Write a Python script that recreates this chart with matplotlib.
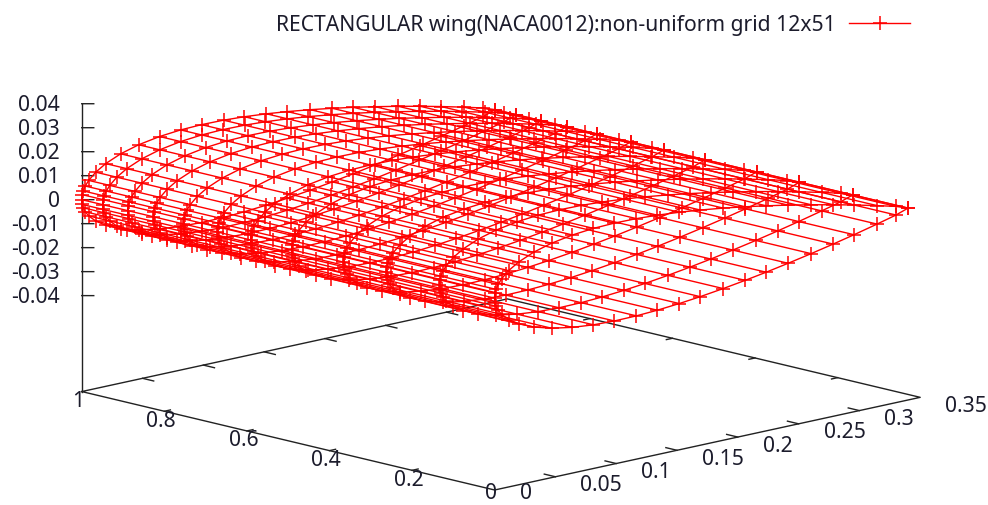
#!/usr/bin/python3
import matplotlib
matplotlib.use('Agg')
import matplotlib.pyplot as plt
import numpy as np
from mpl_toolkits.mplot3d import proj3d

plt.rcParams['font.family'] = ['Noto Sans', 'DejaVu Sans']

title = "RECTANGULAR wing(NACA0012):non-uniform grid 12x51"

# spanwise stations
span_y = [0.0, 0.134, 0.263, 0.367, 0.491, 0.591, 0.672, 0.754, 0.827, 0.888, 0.949, 1.0]

# chord stations, leading edge to trailing edge
chord_x = [0.0, 0.0004, 0.0012, 0.0029, 0.0057, 0.0115, 0.0197, 0.0320, 0.0468, 0.0640,
           0.0813, 0.0985, 0.1166, 0.1338, 0.1519, 0.1691, 0.1880, 0.2061, 0.2233, 0.2414,
           0.2603, 0.2784, 0.2956, 0.3145, 0.3301, 0.3400]

# half thickness at each chord station
half_z = [0.0, 0.00204, 0.00351, 0.00536, 0.0074, 0.01019, 0.01286, 0.01558, 0.01772, 0.01926,
          0.0201, 0.0204, 0.02027, 0.01981, 0.01903, 0.01806, 0.01677, 0.01534, 0.01385, 0.01212,
          0.01019, 0.0082, 0.0062, 0.00385, 0.00179, 0.0]

xticks = [0, 0.05, 0.1, 0.15, 0.2, 0.25, 0.3, 0.35]
xticklabels = ['0', '0.05', '0.1', '0.15', '0.2', '0.25', '0.3', '0.35']
yticks = [0, 0.2, 0.4, 0.6, 0.8, 1]
yticklabels = ['0', '0.2', '0.4', '0.6', '0.8', '1']
zticks = [-0.04, -0.03, -0.02, -0.01, 0, 0.01, 0.02, 0.03, 0.04]
zticklabels = ['-0.04', '-0.03', '-0.02', '-0.01', '0', '0.01', '0.02', '0.03', '0.04']

xmax, ymax, zmin, zmax = 0.35, 1.0, -0.08, 0.04

W, H = 988, 505
side = 863.4
cx, cy = 489.3, 242.8

fig = plt.figure(figsize=(W / 100, H / 100), dpi=100)
ax = fig.add_axes([(cx - side / 2) / W, (cy - side / 2) / H, side / W, side / H],
                  projection='3d', proj_type='ortho', computed_zorder=False)
ax.view_init(elev=13.17, azim=-133.7)
ax.set_box_aspect((589, 598, 295.8))
ax.set_xlim(0, xmax, view_margin=0)
ax.set_ylim(0, ymax, view_margin=0)
ax.set_zlim(zmin, zmax, view_margin=0)
ax.set_axis_off()

axcolor = '#222222'
axlw = 1.0
textcolor = '#1c1c2c'
fs = 15.2


def axline(xs, ys, zs, lw=axlw):
    ax.plot(xs, ys, zs, color=axcolor, lw=lw, zorder=1)


# base frame and z axis
axline([0, 0, xmax, xmax, 0], [ymax, 0, 0, ymax, ymax], [zmin] * 5)
axline([0, 0], [ymax, ymax], [zmin, zmax])

M = ax.get_proj()


def label(x, y, z, text, dx, dy, ha):
    px, py, _ = proj3d.proj_transform(x, y, z, M)
    ax.annotate(text, xy=(px, py), xytext=(dx, dy), textcoords='offset pixels', ha=ha, va='center',
                fontsize=fs, color=textcolor, annotation_clip=False)


for x, t in zip(xticks, xticklabels):
    if 0 < x < xmax:
        axline([x, x], [0, 0.027], [zmin, zmin])
        axline([x, x], [ymax, ymax - 0.027], [zmin, zmin])
    # the two corner zeros sit right at the bottom edge, keep them inside
    label(x, 0, zmin, t, 25, -9 if x > 0 else -4, 'left')

for y, t in zip(yticks, yticklabels):
    if 0 < y < ymax:
        axline([0, 0.005], [y, y], [zmin, zmin])
        axline([xmax, xmax - 0.005], [y, y], [zmin, zmin])
    label(0, y, zmin, t, -3.5, -10 if y > 0 else -4, 'center')

for z, t in zip(zticks, zticklabels):
    # horizontal on screen
    axline([0, 0.00514], [ymax, ymax - 0.01395], [z, z])
    label(0, ymax, z, t, -22, -2, 'right')

# wing surface: lower side from trailing edge to leading edge, then upper side back
grid_x = np.array(chord_x[::-1] + chord_x[1:])
grid_z = np.array([-v for v in half_z[::-1]] + half_z[1:])

handle = None
for y in span_y:
    line, = ax.plot(grid_x, np.full(len(grid_x), y), grid_z, color='#ff0000', lw=1.0,
                    marker='+', ms=9.5, mew=1.1, zorder=2)
    handle = line
for gx, gz in zip(grid_x, grid_z):
    ax.plot(np.full(len(span_y), gx), span_y, np.full(len(span_y), gz), color='#ff0000', lw=1.0, zorder=2)

fig.legend([handle], [title], loc='center right', bbox_to_anchor=(910 / W, 1 - 25 / H),
           markerfirst=False, frameon=False, fontsize=fs, labelcolor=textcolor, numpoints=1,
           handlelength=61 / (fs * 100 / 72), handletextpad=0.62, borderpad=0, borderaxespad=0)

fig.savefig('out.png', dpi=100)
